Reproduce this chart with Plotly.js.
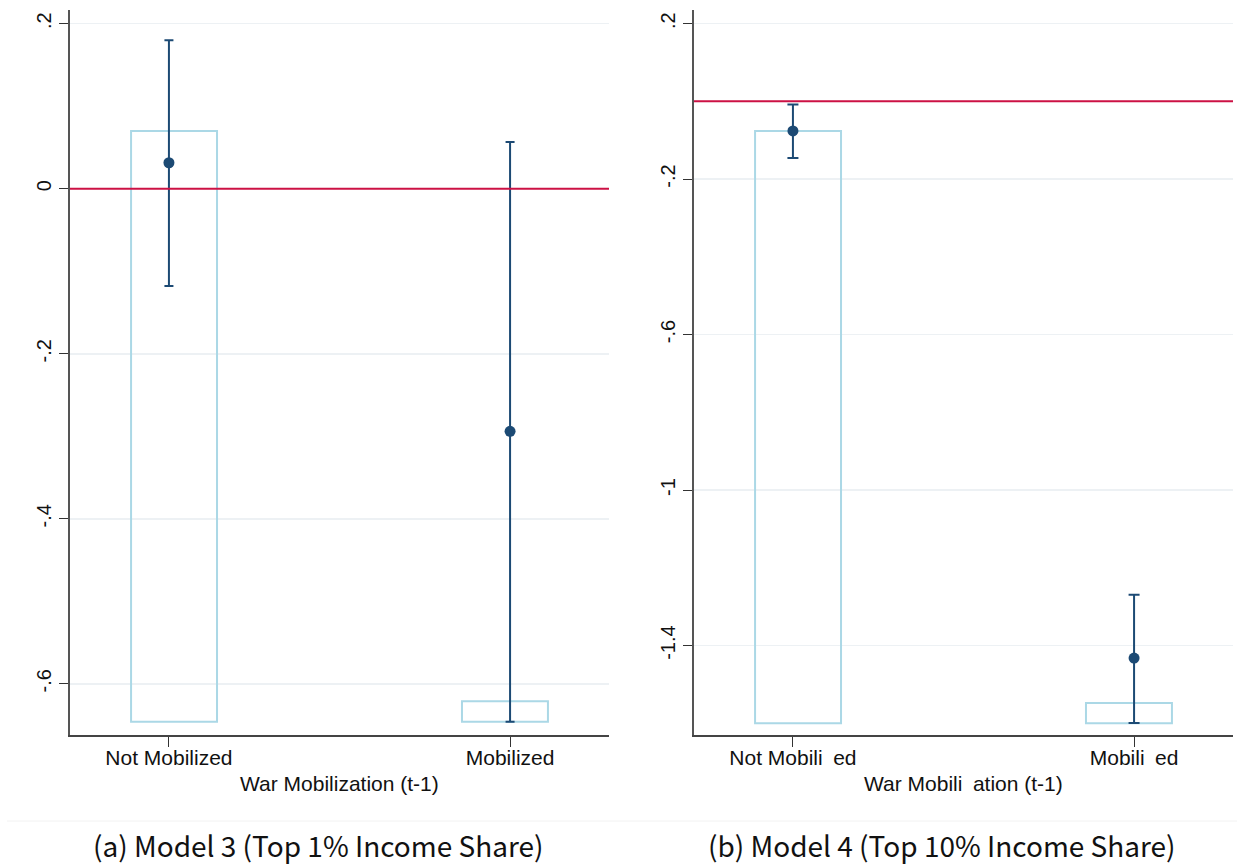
<!DOCTYPE html>
<html>
<head>
<meta charset="utf-8">
<script src="https://cdn.plot.ly/plotly-3.0.1.min.js"></script>
<style>html,body{margin:0;padding:0;background:#fff;}#chart{width:1244px;height:867px;}</style>
</head>
<body>
<div id="chart"></div>
<script>
// Panel (a): Model 3 (Top 1% Income Share)
const categoriesA = ["Not Mobilized", "Mobilized"];
const estimateA = [0.0315, -0.294];
const ciLowA = [-0.118, -0.646];
const ciHighA = [0.180, 0.0566];
const barTopA = [0.070, -0.621];
const barBaseA = -0.646;
const yTickValsA = [0.2, 0, -0.2, -0.4, -0.6];
const yTickTextA = [".2", "0", "-.2", "-.4", "-.6"];
const refLineA = 0;

// Panel (b): Model 4 (Top 10% Income Share)
const categoriesB = ["Not Mobili\u2002ed", "Mobili\u2002ed"];
const estimateB = [-0.076, -1.432];
const ciLowB = [-0.146, -1.599];
const ciHighB = [-0.008, -1.269];
const barTopB = [-0.076, -1.548];
const barBaseB = -1.600;
const yTickValsB = [0.2, -0.2, -0.6, -1, -1.4];
const yTickTextB = [".2", "-.2", "-.6", "-1", "-1.4"];
const refLineB = 0;

const xTitleA = "War Mobilization (t-1)";
const xTitleB = "War Mobili\u2002ation (t-1)";
const captionA = "(a) Model 3 (Top 1% Income Share)";
const captionB = "(b) Model 4 (Top 10% Income Share)";

const W = 1244, H = 867;
const navy = "#1c4a74";
const barLine = "#abd8e6";
const red = "#cc1144";
const pos = [0, 1];
const sansFont = "Liberation Sans, Arial, sans-serif";

function barTrace(tops, base, xa, ya) {
  return {
    type: "bar", x: pos, y: tops.map(t => t - base), base: [base, base],
    width: 0.252, offset: [-0.111, -0.141],
    marker: {color: "rgba(0,0,0,0)", line: {color: barLine, width: 2}},
    xaxis: xa, yaxis: ya, hoverinfo: "skip", showlegend: false
  };
}
function ptTrace(est, lo, hi, xa, ya, capw) {
  return {
    type: "scatter", mode: "markers", x: pos, y: est,
    error_y: {type: "data", symmetric: false,
      array: hi.map((h, i) => h - est[i]),
      arrayminus: lo.map((l, i) => est[i] - l),
      color: navy, thickness: 2, width: capw},
    marker: {color: navy, size: 11},
    xaxis: xa, yaxis: ya, showlegend: false
  };
}

const data = [
  barTrace(barTopA, barBaseA, "x", "y"),
  ptTrace(estimateA, ciLowA, ciHighA, "x", "y", 4.5),
  barTrace(barTopB, barBaseB, "x2", "y2"),
  ptTrace(estimateB, ciLowB, ciHighB, "x2", "y2", 5.5)
];

const yTop = 1 - 10 / H, yBot = 1 - 735 / H;
function xAxis(dom, labels, anchor) {
  return {
    domain: dom, range: [-0.29, 1.29], anchor: anchor,
    tickvals: pos, ticktext: labels, ticks: "outside", ticklen: 10, tickwidth: 1,
    tickcolor: "#333", showline: true, linecolor: "#444", linewidth: 1.5,
    showgrid: false, zeroline: false, fixedrange: true, ticklabelstandoff: -7,
    tickfont: {family: sansFont, size: 21, color: "#111"}
  };
}
function yAxis(range, vals, text, anchor) {
  return {
    domain: [yBot, yTop], range: range, anchor: anchor,
    tickvals: vals, ticktext: text, tickangle: -90,
    ticks: "outside", ticklen: 9, tickwidth: 1, tickcolor: "#333",
    showline: true, linecolor: "#555", linewidth: 2,
    showgrid: true, gridcolor: "#edf1f4", gridwidth: 1.5, zeroline: false,
    fixedrange: true,
    tickfont: {family: sansFont, size: 20, color: "#111"}
  };
}

const xa1 = [70 / W, 609 / W], xa2 = [694 / W, 1233 / W];

const layout = {
  width: W, height: H, margin: {l: 0, r: 0, t: 0, b: 0},
  paper_bgcolor: "#fff", plot_bgcolor: "#fff", showlegend: false,
  xaxis: xAxis(xa1, categoriesA, "y"),
  yaxis: yAxis([-0.662, 0.2166], yTickValsA, yTickTextA, "x"),
  xaxis2: xAxis(xa2, categoriesB, "y2"),
  yaxis2: yAxis([-1.630, 0.235], yTickValsB, yTickTextB, "x2"),
  shapes: [
    {type: "line", xref: "x domain", yref: "y", x0: 0, x1: 1, y0: refLineA, y1: refLineA,
     line: {color: red, width: 2}},
    {type: "line", xref: "x2 domain", yref: "y2", x0: 0, x1: 1, y0: refLineB, y1: refLineB,
     line: {color: red, width: 2}},
    {type: "line", xref: "paper", yref: "paper", x0: 7 / W, x1: 1237 / W, y0: 1 - 821 / H, y1: 1 - 821 / H,
     line: {color: "#f2f2f2", width: 1}}
  ],
  annotations: [
    {text: xTitleA, xref: "paper", yref: "paper", x: 339.5 / W, y: 1 - 783 / H,
     xanchor: "center", yanchor: "middle", showarrow: false,
     font: {family: sansFont, size: 21, color: "#111"}},
    {text: xTitleB, xref: "paper", yref: "paper", x: 963.5 / W, y: 1 - 783 / H,
     xanchor: "center", yanchor: "middle", showarrow: false,
     font: {family: sansFont, size: 21, color: "#111"}},
    {text: captionA, xref: "paper", yref: "paper", x: 318 / W, y: 1 - 845 / H,
     xanchor: "center", yanchor: "middle", showarrow: false,
     font: {family: "Noto Sans CJK SC, sans-serif", size: 28, color: "#111"}},
    {text: captionB, xref: "paper", yref: "paper", x: 942 / W, y: 1 - 845 / H,
     xanchor: "center", yanchor: "middle", showarrow: false,
     font: {family: "Noto Sans CJK SC, sans-serif", size: 28, color: "#111"}}
  ]
};

Plotly.newPlot("chart", data, layout, {displayModeBar: false, staticPlot: true});
</script>
</body>
</html>
